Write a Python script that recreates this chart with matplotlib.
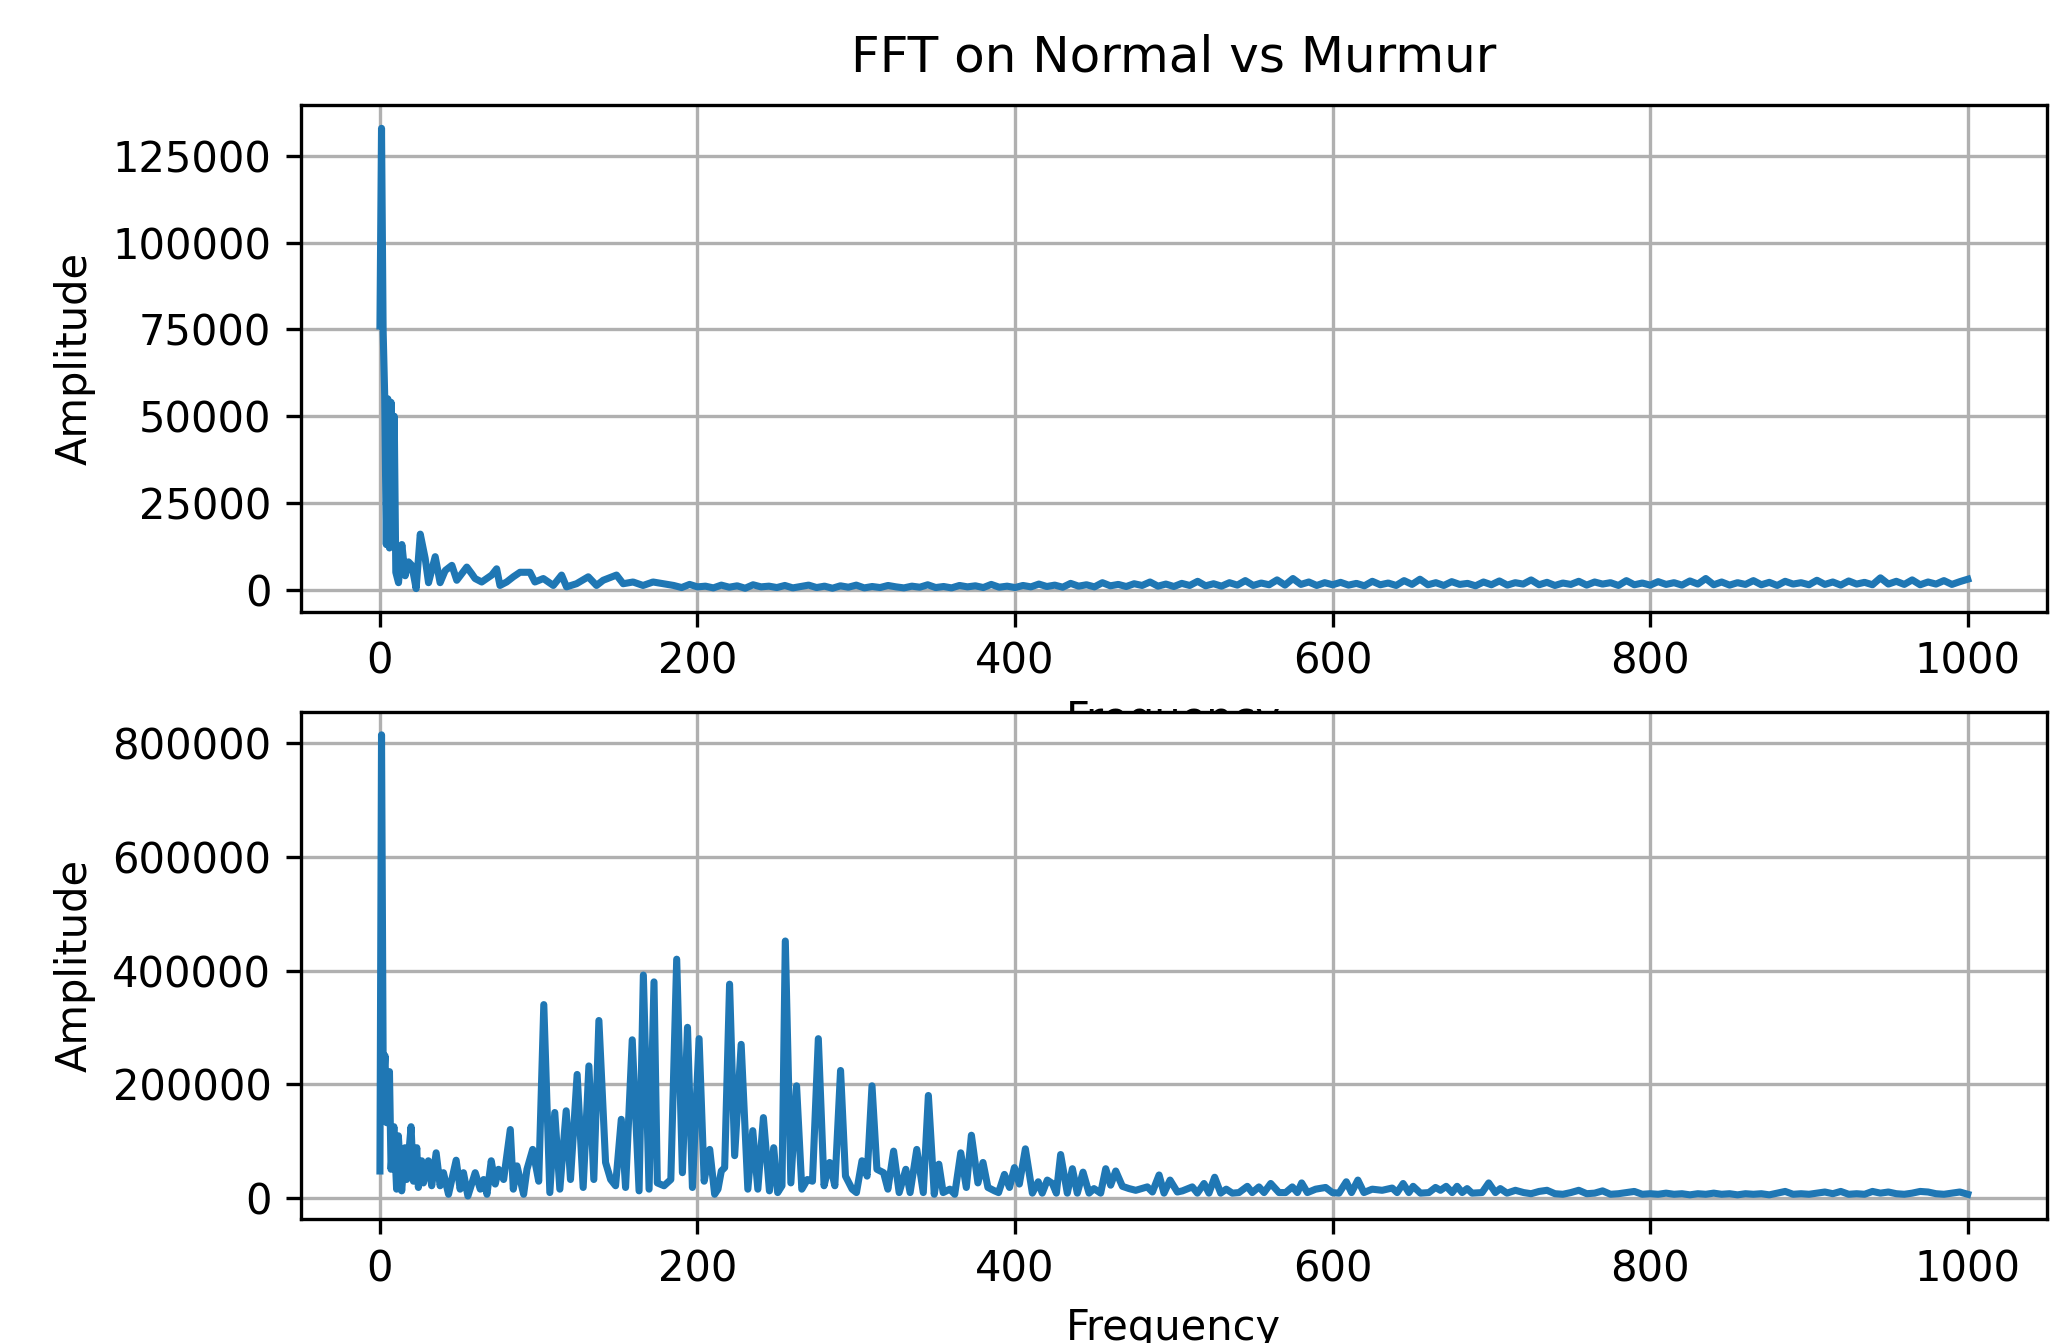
import numpy as np
import matplotlib
matplotlib.use("Agg")
import matplotlib.pyplot as plt

# ---------------- Normal (top) ----------------
normal_freq_low = [0, 1, 2, 3, 4, 5, 6, 7, 8, 9, 10,
                   11.7, 13.8, 15.9, 18, 20.1, 22.8, 25.4, 28.5, 30.6, 34.8,
                   37.9, 41.1, 45.3, 48.4, 54.7, 57.8, 59.9, 64.1, 70.4, 73.5,
                   75.6, 79.8, 84, 88.2, 94.5, 97.6, 102.9, 109.2, 114.4, 117.5,
                   123.8, 131.2, 136.4, 140.6, 149, 153.2, 159.4, 165.7, 172, 178.3]
normal_amp_low_k = [76, 133, 75, 56, 13, 55, 12, 54, 14, 50, 5,
                    2, 13, 4, 8, 7, 0.3, 16, 9, 2, 9.5,
                    2, 5.5, 7, 2.7, 6.5, 4.6, 3.2, 2.2, 4.2, 6,
                    1.2, 2.2, 3.7, 5, 5, 2.2, 3.2, 1.2, 4.2, 0.8,
                    1.7, 3.7, 1.2, 2.7, 4.2, 1.7, 2.2, 1.2, 2.2, 1.7]
# floor, 185..1000 Hz every 5 Hz
normal_floor_start, normal_floor_step = 185, 5
normal_floor_k = [1.2, 0.6, 1.5, 0.8, 1.0, 0.5, 1.3, 0.7, 1.1, 0.4,
                  1.4, 0.8, 1.0, 0.6, 1.2, 0.5, 0.9, 1.3, 0.6, 1.0,
                  0.4, 1.1, 0.7, 1.3, 0.5, 0.9, 0.6, 1.2, 0.8, 0.5,
                  1.0, 0.7, 1.4, 0.6, 0.9, 0.5, 1.2, 0.8, 1.1, 0.6,
                  1.5, 0.7, 1.0, 0.6,
                  1.2, 0.8, 1.6, 0.9, 1.3, 0.7, 1.8, 1.0, 1.4, 0.8,
                  2.0, 1.1, 1.5, 0.9, 1.7, 1.2, 2.2, 1.0, 1.6, 0.9,
                  1.8, 1.2, 2.4, 1.1, 1.7, 1.0, 2.0, 1.3, 2.6, 1.2,
                  1.9, 1.4, 2.8, 1.3, 3.2, 1.5, 2.2, 1.2, 2.0, 1.4,
                  2.1, 1.3, 1.8, 1.1, 2.4, 1.4, 1.9, 1.2, 2.6, 1.5,
                  3.0, 1.4, 2.0, 1.2, 2.3, 1.5, 1.8, 1.1, 2.2, 1.4,
                  2.5, 1.3, 2.0, 1.6, 2.8, 1.4, 2.1, 1.2, 1.9, 1.5,
                  2.4, 1.3, 2.2, 1.6, 2.0, 1.2, 2.6, 1.4, 1.9, 1.3,
                  2.3, 1.5, 2.0, 1.3, 2.5, 1.6, 3.2, 1.4, 2.2, 1.3,
                  2.0, 1.5, 2.6, 1.4, 2.1, 1.2, 2.4, 1.6, 2.0, 1.4,
                  2.7, 1.5, 2.2, 1.3, 2.5, 1.6, 2.1, 1.4, 3.4, 1.6,
                  2.4, 1.5, 2.8, 1.4, 2.2, 1.6, 2.6, 1.5, 2.3, 3.0]

# ---------------- Murmur (bottom) ----------------
murmur_freq_low = [0, 1, 2.1, 3.2, 4.2, 6.0, 7.0, 8.8, 10.5, 11.6,
                   13.7, 15.8, 16.8, 19.6, 21.1, 23.2, 24.2, 26.3, 27.4, 30.5,
                   32.6, 35.4, 37.9, 40, 43.2, 48, 50.5, 52.6, 55.4, 60,
                   63.2, 65.3, 67.4, 70.1, 72.6, 74.7, 77.9, 82.1, 84.0, 86.3,
                   90.5, 92.6, 96.2, 100, 103.2, 107, 110.1, 113.3, 117.3, 120,
                   124.2, 128, 131.6, 134.7, 137.9, 142.1, 145.3, 148.4, 152, 154.7,
                   158.9, 163.2, 165.9, 169.5, 172.6, 174.7, 178.9, 183.2, 186.9, 190.5,
                   193.7, 196.8, 201, 204.2, 207.7, 210.8, 212.9, 215, 217.1, 220.2,
                   223.4, 227.5, 231.7, 234.8, 238, 241.5, 245.3, 248, 250.5, 253.2,
                   255.3, 258.8, 262.4, 265.7, 269.2, 272.4, 276.1, 279.7, 283.2, 286.5,
                   290.1, 293.2, 297.4, 300.1, 303.6, 306.8, 309.9, 313, 317.2, 319.9,
                   323.5, 327, 331.2, 333.9, 338.1, 342.2, 345.4, 349.1, 352, 354.7,
                   358.9, 362, 365.8, 369.3, 372.5, 376.6, 379.8, 382.9, 387.1, 389.6,
                   393.3, 396.5, 399.6, 402.7, 406.5, 410.9, 414.6, 417.1, 420.3, 423.5,
                   426, 428.7, 432.9, 436.1, 439.2, 442.8, 446.6, 449.7, 453.9, 457.1,
                   460.2, 463.4, 467.6, 471.8, 476, 483.3, 486.5, 490.7, 493.8, 497.6,
                   502.2, 505.4, 511.6, 514.8, 519, 522.1, 525.7, 529.5, 533, 536.8,
                   541, 546.3, 549.4, 553.6, 556.8, 561, 566.2, 570.4, 574.6, 577.8,
                   580.5, 584.1, 589.3, 595.6, 599.8, 604, 608.6, 611.9, 615.9, 619.7,
                   624.9, 631.2, 637.5, 640.6, 644.4, 648, 650.7, 655.3, 660.6, 664.8,
                   667.9, 671.5, 675.3, 678.4, 681.6, 684.7, 687.8, 694.1, 698.3, 702.5,
                   705.6, 709.8, 715.1, 720.3]
murmur_amp_low_k = [47, 815, 197, 250, 132, 222, 50, 125, 15, 109,
                    12, 88, 32, 125, 29, 88, 18, 65, 26, 65,
                    21, 79, 21, 44, 6, 66, 15, 44, 3, 44,
                    15, 32, 6, 65, 24, 50, 32, 120, 15, 56,
                    6, 50, 85, 29, 340, 9, 150, 15, 153, 32,
                    217, 18, 232, 32, 312, 62, 32, 21, 138, 18,
                    278, 12, 392, 15, 380, 26, 21, 32, 420, 44,
                    300, 18, 280, 29, 85, 6, 15, 47, 53, 376,
                    74, 270, 15, 118, 15, 141, 12, 88, 9, 21,
                    452, 26, 197, 15, 32, 29, 280, 21, 62, 21,
                    224, 38, 15, 9, 65, 38, 197, 50, 44, 15,
                    82, 9, 50, 9, 85, 9, 180, 6, 59, 9,
                    15, 6, 79, 18, 110, 26, 62, 18, 12, 9,
                    41, 18, 53, 24, 86, 8, 28, 8, 31, 25,
                    8, 76, 8, 51, 8, 45, 8, 16, 8, 51,
                    22, 47, 20, 16, 13, 19, 10, 40, 8, 31,
                    10, 12, 19, 8, 25, 8, 36, 8, 15, 8,
                    9, 20, 9, 19, 9, 25, 9, 9, 19, 9,
                    26, 9, 15, 18, 9, 8, 28, 9, 31, 9,
                    15, 13, 17, 9, 25, 9, 20, 8, 9, 18,
                    13, 20, 9, 20, 9, 16, 8, 9, 26, 9,
                    16, 8, 13, 9]
# floor, 725..1000 Hz every 5 Hz
murmur_floor_start, murmur_floor_step = 725, 5
murmur_floor_k = [7, 11, 13, 7, 6, 9, 13, 7, 8, 12,
                  6, 7, 9, 11, 6, 7, 6, 8, 6, 7,
                  5, 7, 6, 8, 6, 7, 5, 7, 6, 7,
                  5, 8, 11, 6, 7, 6, 8, 10, 7, 11,
                  6, 7, 6, 11, 8, 10, 7, 6, 8, 11,
                  10, 7, 6, 8, 10, 6]

title = "FFT on Normal vs Murmur"
x_label = "Frequency"
y_label = "Amplitude"
top_yticks = [0, 25000, 50000, 75000, 100000, 125000]
bottom_yticks = [0, 200000, 400000, 600000, 800000]
x_ticks = [0, 200, 400, 600, 800, 1000]


def build(freq_low, amp_low_k, start, step, floor_k):
    f_floor = start + step * np.arange(len(floor_k))
    f = np.concatenate([np.asarray(freq_low, float), f_floor])
    a = np.concatenate([np.asarray(amp_low_k, float), np.asarray(floor_k, float)]) * 1000
    return f, a


fn, an = build(normal_freq_low, normal_amp_low_k, normal_floor_start, normal_floor_step, normal_floor_k)
fm, am = build(murmur_freq_low, murmur_amp_low_k, murmur_floor_start, murmur_floor_step, murmur_floor_k)

fig = plt.figure(figsize=(2067 / 300, 1343 / 300), dpi=300)
ax1 = fig.add_axes([0.1454, 0.5446, 0.845, 0.377])
ax2 = fig.add_axes([0.1454, 0.0923, 0.845, 0.3777])

ax1.plot(fn, an, color="C0", lw=1.7)
ax1.set_title(title, fontsize=12, pad=8)
ax1.set_xlabel(x_label)
ax1.set_ylabel(y_label)
ax1.set_yticks(top_yticks)
ax1.set_xticks(x_ticks)
ax1.grid(True)

ax2.plot(fm, am, color="C0", lw=1.7)
ax2.set_xlabel(x_label)
ax2.set_ylabel(y_label)
ax2.set_yticks(bottom_yticks)
ax2.set_xticks(x_ticks)
ax2.grid(True)

fig.savefig("out.png", dpi=300)
